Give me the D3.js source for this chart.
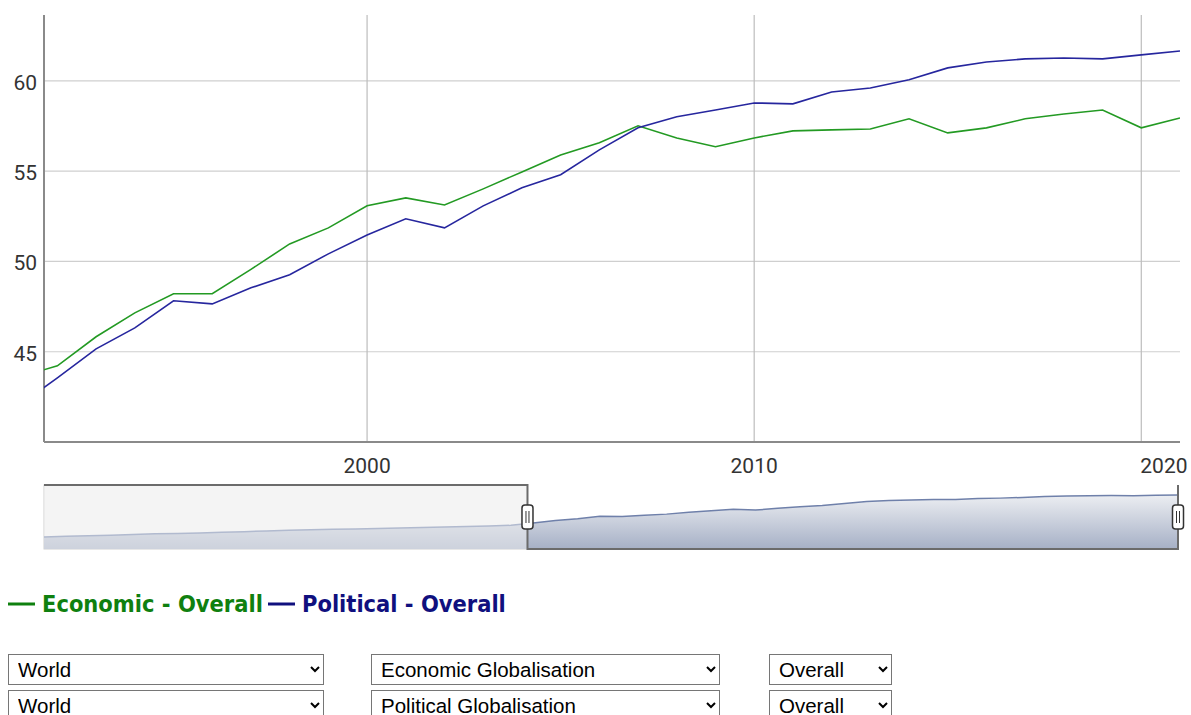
<!DOCTYPE html>
<html>
<head>
<meta charset="utf-8">
<script src="https://cdn.jsdelivr.net/npm/d3@7"></script>
<style>
  body { margin: 0; background: #fff; }
  #chart { position: absolute; left: 0; top: 0; }
  select {
    position: absolute;
    font-family: "Liberation Sans", Arial, sans-serif;
    font-size: 20.5px;
    height: 31px;
    padding-left: 5px;
    color: #000;
    background: #fff;
  }
</style>
</head>
<body>
<svg id="chart"></svg>
<script>
// Data
const navYears = d3.range(1970, 2022)
const political = [
  34.5, 34.9, 35.2, 35.6, 36.0, 36.5, 36.8, 37.1, 37.5, 37.9,
  38.4, 38.8, 39.1, 39.4, 39.7, 40.0, 40.3, 40.6, 40.9, 41.2,
  41.6, 42.0, 43.55, 45.16, 46.32, 47.82, 47.65, 48.54, 49.26, 50.42,
  51.47, 52.36, 51.86, 53.08, 54.08, 54.80, 56.18, 57.40, 58.01, 58.39,
  58.78, 58.73, 59.39, 59.61, 60.06, 60.72, 61.05, 61.22, 61.27, 61.22,
  61.44, 61.66
]
const econYears = d3.range(1991, 2022)
const economic = [
  43.59, 44.22, 45.83, 47.15, 48.21, 48.21, 49.56, 50.97, 51.86,
  53.08, 53.52, 53.13, 54.02, 54.96, 55.90, 56.57, 57.51, 56.84, 56.35,
  56.84, 57.23, 57.29, 57.34, 57.90, 57.12, 57.40, 57.90, 58.17, 58.39,
  57.40, 57.95
]
const yTicks = [45, 50, 55, 60]
const xTicks = [2000, 2010, 2020]
const viewRange = [1991.654, 2021]
const legendItems = [
  { label: 'Economic - Overall', color: '#0f800f', x: 8, w: 221 },
  { label: 'Political - Overall', color: '#10107e', x: 268, w: 204 }
]
const selectRows = [
  ['World', 'Economic Globalisation', 'Overall'],
  ['World', 'Political Globalisation', 'Overall']
]

const econData = econYears.map((y, i) => ({ year: y, value: economic[i] }))
const polData = navYears.map((y, i) => ({ year: y, value: political[i] }))

// SVG
const svg = d3.select('#chart')
  .attr('width', 1191)
  .attr('height', 650)

const plot = { left: 44, right: 1180, top: 15, bottom: 442 }

// Scales
const x = d3.scaleLinear().domain(viewRange).range([plot.left, plot.right])
const y = d3.scaleLinear().domain([40, 63.65]).range([plot.bottom, plot.top])

// Grid lines
svg.append('g')
  .selectAll('line')
  .data(yTicks)
  .enter().append('line')
    .attr('x1', plot.left).attr('x2', plot.right)
    .attr('y1', d => y(d)).attr('y2', d => y(d))
    .attr('stroke', '#cfcfcf').attr('stroke-width', 1.2)

svg.append('g')
  .selectAll('line')
  .data(xTicks)
  .enter().append('line')
    .attr('x1', d => x(d)).attr('x2', d => x(d))
    .attr('y1', plot.top).attr('y2', plot.bottom)
    .attr('stroke', '#bdbdbd').attr('stroke-width', 1.2)

// Axis lines
svg.append('line')
  .attr('x1', plot.left).attr('x2', plot.left)
  .attr('y1', plot.top).attr('y2', plot.bottom)
  .attr('stroke', '#8a8a8a').attr('stroke-width', 2)
svg.append('line')
  .attr('x1', plot.left).attr('x2', plot.right)
  .attr('y1', plot.bottom).attr('y2', plot.bottom)
  .attr('stroke', '#8a8a8a').attr('stroke-width', 2)

// Tick labels
svg.append('g')
  .selectAll('text')
  .data(yTicks)
  .enter().append('text')
    .attr('x', 37)
    .attr('y', d => y(d) + 9)
    .attr('text-anchor', 'end')
    .attr('font-family', 'Roboto, sans-serif')
    .attr('font-size', 21)
    .attr('fill', '#333')
    .text(d => d)

svg.append('g')
  .selectAll('text')
  .data(xTicks)
  .enter().append('text')
    .attr('x', (d, i) => i === xTicks.length - 1 ? x(d) - 1 : x(d))
    .attr('y', 473)
    .attr('text-anchor', (d, i) => i === xTicks.length - 1 ? 'start' : 'middle')
    .attr('font-family', 'Roboto, sans-serif')
    .attr('font-size', 21)
    .attr('fill', '#333')
    .text(d => d)

// Lines
svg.append('clipPath').attr('id', 'clip')
  .append('rect')
    .attr('x', plot.left).attr('y', plot.top)
    .attr('width', plot.right - plot.left).attr('height', plot.bottom - plot.top)

const line = d3.line().x(d => x(d.year)).y(d => y(d.value))

svg.append('path')
  .datum(econData)
  .attr('clip-path', 'url(#clip)')
  .attr('fill', 'none')
  .attr('stroke', '#239a23')
  .attr('stroke-width', 1.6)
  .attr('d', line)

svg.append('path')
  .datum(polData)
  .attr('clip-path', 'url(#clip)')
  .attr('fill', 'none')
  .attr('stroke', '#26269e')
  .attr('stroke-width', 1.6)
  .attr('d', line)

// Navigator
const nav = { left: 44, right: 1178, top: 485, bottom: 549 }
const nx = d3.scaleLinear().domain([1970, 2021]).range([nav.left, nav.right])
const ny = d3.scaleLinear().domain([26.7, 68.1]).range([nav.bottom, nav.top])
const selLeft = nx(viewRange[0]) + 2
const selRight = nx(viewRange[1])

const grad = svg.append('defs').append('linearGradient')
  .attr('id', 'navGrad').attr('x1', 0).attr('y1', 0).attr('x2', 0).attr('y2', 1)
grad.append('stop').attr('offset', '0%').attr('stop-color', '#eceef2')
grad.append('stop').attr('offset', '100%').attr('stop-color', '#a6b0c6')

// unselected background
svg.append('rect')
  .attr('x', nav.left).attr('y', nav.top)
  .attr('width', selLeft - nav.left).attr('height', nav.bottom - nav.top)
  .attr('fill', '#f4f4f4')
  .attr('stroke', '#d0d0d0').attr('stroke-width', 1)

const area = d3.area()
  .x(d => nx(d.year))
  .y0(nav.bottom)
  .y1(d => ny(d.value))

svg.append('path')
  .datum(polData)
  .attr('fill', 'url(#navGrad)')
  .attr('d', area)

svg.append('path')
  .datum(polData)
  .attr('fill', 'none')
  .attr('stroke', '#6f80aa')
  .attr('stroke-width', 1.5)
  .attr('d', d3.line().x(d => nx(d.year)).y(d => ny(d.value)))

// mask over the unselected part
svg.append('rect')
  .attr('x', nav.left).attr('y', nav.top)
  .attr('width', selLeft - nav.left).attr('height', nav.bottom - nav.top)
  .attr('fill', '#f4f4f4').attr('opacity', 0.5)

// outline
svg.append('path')
  .attr('fill', 'none')
  .attr('stroke', '#6b6b6b')
  .attr('stroke-width', 2)
  .attr('d', `M${nav.left},${nav.top}H${selLeft}V${nav.bottom}H${selRight}V${nav.top}`)

// handles
const handles = svg.append('g')
  .selectAll('g')
  .data([selLeft, selRight])
  .enter().append('g')
    .attr('transform', d => `translate(${d},517)`)
handles.append('rect')
  .attr('x', -5.5).attr('y', -12).attr('width', 11).attr('height', 24)
  .attr('rx', 3)
  .attr('fill', '#fff').attr('stroke', '#333').attr('stroke-width', 1.5)
handles.append('path')
  .attr('d', 'M-1.5,-6V6M1.5,-6V6')
  .attr('stroke', '#333').attr('stroke-width', 1)

// Legend
const legend = svg.append('g')
  .selectAll('g')
  .data(legendItems)
  .enter().append('g')
legend.append('line')
  .attr('x1', d => d.x).attr('x2', d => d.x + 27)
  .attr('y1', 604).attr('y2', 604)
  .attr('stroke', d => d.color).attr('stroke-width', 3)
legend.append('text')
  .attr('x', d => d.x + 34).attr('y', 612)
  .attr('font-family', '"DejaVu Sans Condensed", sans-serif')
  .attr('font-weight', 'bold')
  .attr('font-size', 20)
  .attr('fill', d => d.color)
  .text(d => d.label)
  // scale font so the label fills the same width as the original
  .each(function (d) {
    const len = this.getComputedTextLength()
    d3.select(this).attr('font-size', 20 * d.w / len)
  })

// Dropdowns
const selectPos = [{ left: 8, width: 316 }, { left: 371, width: 349 }, { left: 769, width: 123 }]
selectRows.forEach((row, r) => {
  row.forEach((val, c) => {
    d3.select('body').append('select')
      .style('left', selectPos[c].left + 'px')
      .style('top', (654 + r * 36) + 'px')
      .style('width', selectPos[c].width + 'px')
      .append('option').text(val)
  })
})
</script>
</body>
</html>
